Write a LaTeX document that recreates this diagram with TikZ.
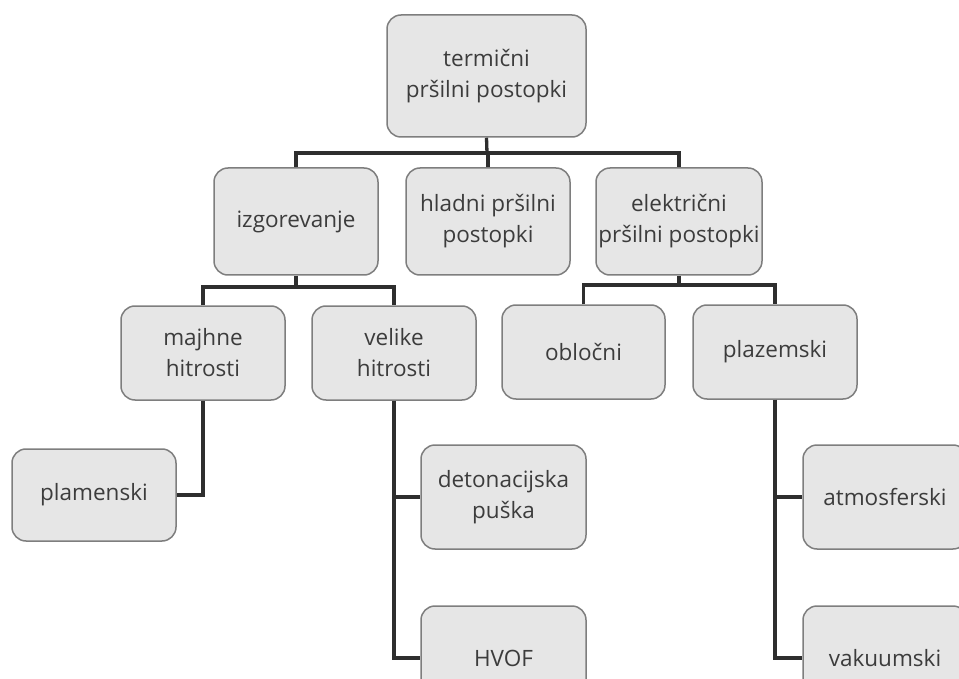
\documentclass[tikz,border=0pt]{standalone}
\usepackage{fontspec}
\setmainfont{Open Sans}
\definecolor{boxfill}{HTML}{E6E6E6}
\definecolor{boxline}{HTML}{7E7E7E}
\definecolor{conn}{HTML}{2E2E2E}
\definecolor{txt}{HTML}{3C3C3C}
\begin{document}
\begin{tikzpicture}[x=1pt,y=1pt,
  box/.style={draw=boxline,line width=1.5pt,fill=boxfill,rounded corners=14pt,
    align=center,text=txt,font=\fontsize{22.5}{31}\selectfont,inner sep=0pt},
  conn/.style={draw=conn,line width=3.3pt}]
\useasboundingbox (0,0) rectangle (959,-679);
\fill[white] (0,0) rectangle (959,-679);
\begin{scope}
\clip (0,0) rectangle (959,-679);
\node[box,minimum width=199pt,minimum height=122pt] (top) at (486.5,-76) {termični\\pršilni postopki};
\node[box,minimum width=164pt,minimum height=107pt] (izg) at (296,-221.5) {izgorevanje};
\node[box,minimum width=164pt,minimum height=107pt] (hla) at (488,-221.5) {hladni pršilni\\postopki};
\node[box,minimum width=166pt,minimum height=107pt] (ele) at (679,-221.5) {električni\\pršilni postopki};
\node[box,minimum width=164pt,minimum height=94pt] (maj) at (203,-353) {majhne\\hitrosti};
\node[box,minimum width=164pt,minimum height=94pt] (vel) at (394,-353) {velike\\hitrosti};
\node[box,minimum width=163pt,minimum height=94pt] (obl) at (583.5,-352) {obločni};
\node[box,minimum width=164pt,minimum height=94pt] (pla) at (775,-352) {plazemski};
\node[box,minimum width=164pt,minimum height=92pt] (plm) at (94,-495) {plamenski};
\node[box,minimum width=165pt,minimum height=104pt] (det) at (503.5,-497) {detonacijska\\puška};
\node[box,minimum width=165pt,minimum height=104pt] (hvo) at (503.5,-658) {HVOF};
\node[box,minimum width=164pt,minimum height=104pt] (atm) at (885,-497) {atmosferski};
\node[box,minimum width=164pt,minimum height=104pt] (vak) at (885,-658) {vakuumski};
\end{scope}
\coordinate (b1) at (487,-153);
\coordinate (b2) at (296,-287);
\coordinate (b3) at (679,-285);
\draw[conn] (top.south) -- (b1);
\draw[conn] (izg.north) |- (b1) -| (ele.north);
\draw[conn] (hla.north) -- (hla.north |- b1);
\draw[conn] (izg.south) -- (b2);
\draw[conn] (maj.north) |- (b2) -| (vel.north);
\draw[conn] (ele.south) -- (b3);
\draw[conn] (obl.north) |- (b3) -| (pla.north);
\draw[conn] (maj.south) |- (plm.east);
\draw[conn] (vel.south) |- (det.west);
\draw[conn] (vel.south) |- (hvo.west);
\draw[conn] (pla.south) |- (atm.west);
\draw[conn] (pla.south) |- (vak.west);
\end{tikzpicture}
\end{document}
